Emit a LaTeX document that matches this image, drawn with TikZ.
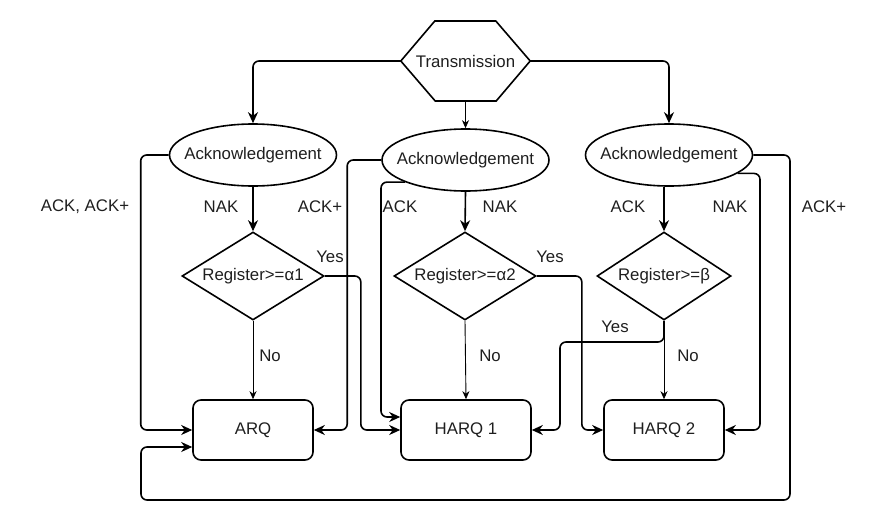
\documentclass[tikz,border=0pt]{standalone}
\usepackage{fontspec}
\setmainfont{Liberation Sans}
\usetikzlibrary{shapes.geometric,arrows.meta}
\newcommand\fixw[1]{\makebox[40pt]{#1}}
\begin{document}
\begin{tikzpicture}[x=1pt,y=-1pt,
  every node/.style={font=\fontsize{16.8}{19}\selectfont, text=black!88},
  ell/.style={draw, ellipse, line width=1.6pt, minimum width=167pt, minimum height=62pt, inner sep=0pt},
  dia/.style={draw, diamond, line width=1.6pt, minimum width=142pt, minimum height=88pt, inner sep=0pt},
  box/.style={draw, rounded corners=8pt, line width=1.6pt, minimum width=120pt, minimum height=60pt},
  con/.style={line width=1.6pt, rounded corners=6pt, -{Stealth[length=11pt,width=10pt,inset=3.5pt]}},
  thinc/.style={line width=0.9pt, -{Stealth[length=8pt,width=7pt,inset=2.5pt]}},
  lbl/.style={inner sep=0pt}
]
\fill[white] (0,0) rectangle (880,530);
\useasboundingbox (0,0) rectangle (880,530);

% Transmission hexagon
\node (trans) at (465.5,61) [minimum width=129pt, minimum height=80pt, inner sep=0pt] {Transmission};
\draw[line width=1.6pt, line join=miter] (trans.west) -- ++(34,-40) -- ++(61,0) -- (trans.east) -- ++(-34,40) -- ++(-61,0) -- cycle;

% Acknowledgement ellipses
\node[ell] (ack1) at (253,155) {\fixw{Acknowledgement}};
\node[ell] (ack2) at (465.5,160) {\fixw{Acknowledgement}};
\node[ell] (ack3) at (669,155) {\fixw{Acknowledgement}};

% Decisions
\node[dia] (d1) at (253,276) {\fixw{Register>=α1}};
\node[dia] (d2) at (465,276) {\fixw{Register>=α2}};
\node[dia, minimum width=134pt] (d3) at (664,276) {\fixw{Register>=β}};

% Boxes
\node[box] (arq) at (253,430) {ARQ};
\node[box, minimum width=130pt] (harq1) at (466,430) {HARQ 1};
\node[box] (harq2) at (664,430) {HARQ 2};

% Transmission to acknowledgements
\draw[con] (trans.west) -| (ack1.north);
\draw[thinc] (trans.south) -- (ack2.north);
\draw[con] (trans.east) -| (ack3.north);

% Column 1
\draw[con] (ack1.south) -- (d1.north);
\draw[thinc] (d1.south) -- (arq.north);
\draw[con] (ack1.west) -- ++(-28,0) |- (arq.west);
\draw[con] (d1.east) -- ++(36,0) |- (harq1.west);

% Column 2
\draw[con] (ack2.west) -- ++(-34,0) |- (arq.east);
\draw[con] (ack2.200) -| (381,417) -- ([yshift=13pt]harq1.west);
\draw[con] (ack2.south) -- (d2.north);
\draw[thinc] (d2.south) -- (harq1.north);
\draw[con] (d2.east) -- ++(45,0) |- (harq2.west);

% Column 3
\draw[con] (d3.north |- ack3.south) -- (d3.north);
\draw[thinc] (d3.south) -- (harq2.north);
\draw[con] (d3.south) |- (560,342) |- (harq1.east);
\draw[con] (ack3.345) -| (760,430) -- (harq2.east);
\draw[con] (ack3.east) -| (790,500) -| (141,447) -- ([yshift=-17pt]arq.west);

% Labels
\node[lbl] (l1) at (85,207) {ACK, ACK+};
\node[lbl] (l2) at (221,207) {NAK};
\node[lbl] (l3) at (320,207) {ACK+};
\node[lbl] (l4) at (330,257) {Yes};
\node[lbl] (l5) at (270,356) {No};
\node[lbl] (l6) at (400,207) {ACK};
\node[lbl] (l7) at (500,207) {NAK};
\node[lbl] (l8) at (550,257) {Yes};
\node[lbl] (l9) at (490,356) {No};
\node[lbl] (l10) at (628,207) {ACK};
\node[lbl] (l11) at (730,207) {NAK};
\node[lbl] (l12) at (824,207) {ACK+};
\node[lbl] (l13) at (615,327) {Yes};
\node[lbl] (l14) at (688,356) {No};
\end{tikzpicture}
\end{document}
